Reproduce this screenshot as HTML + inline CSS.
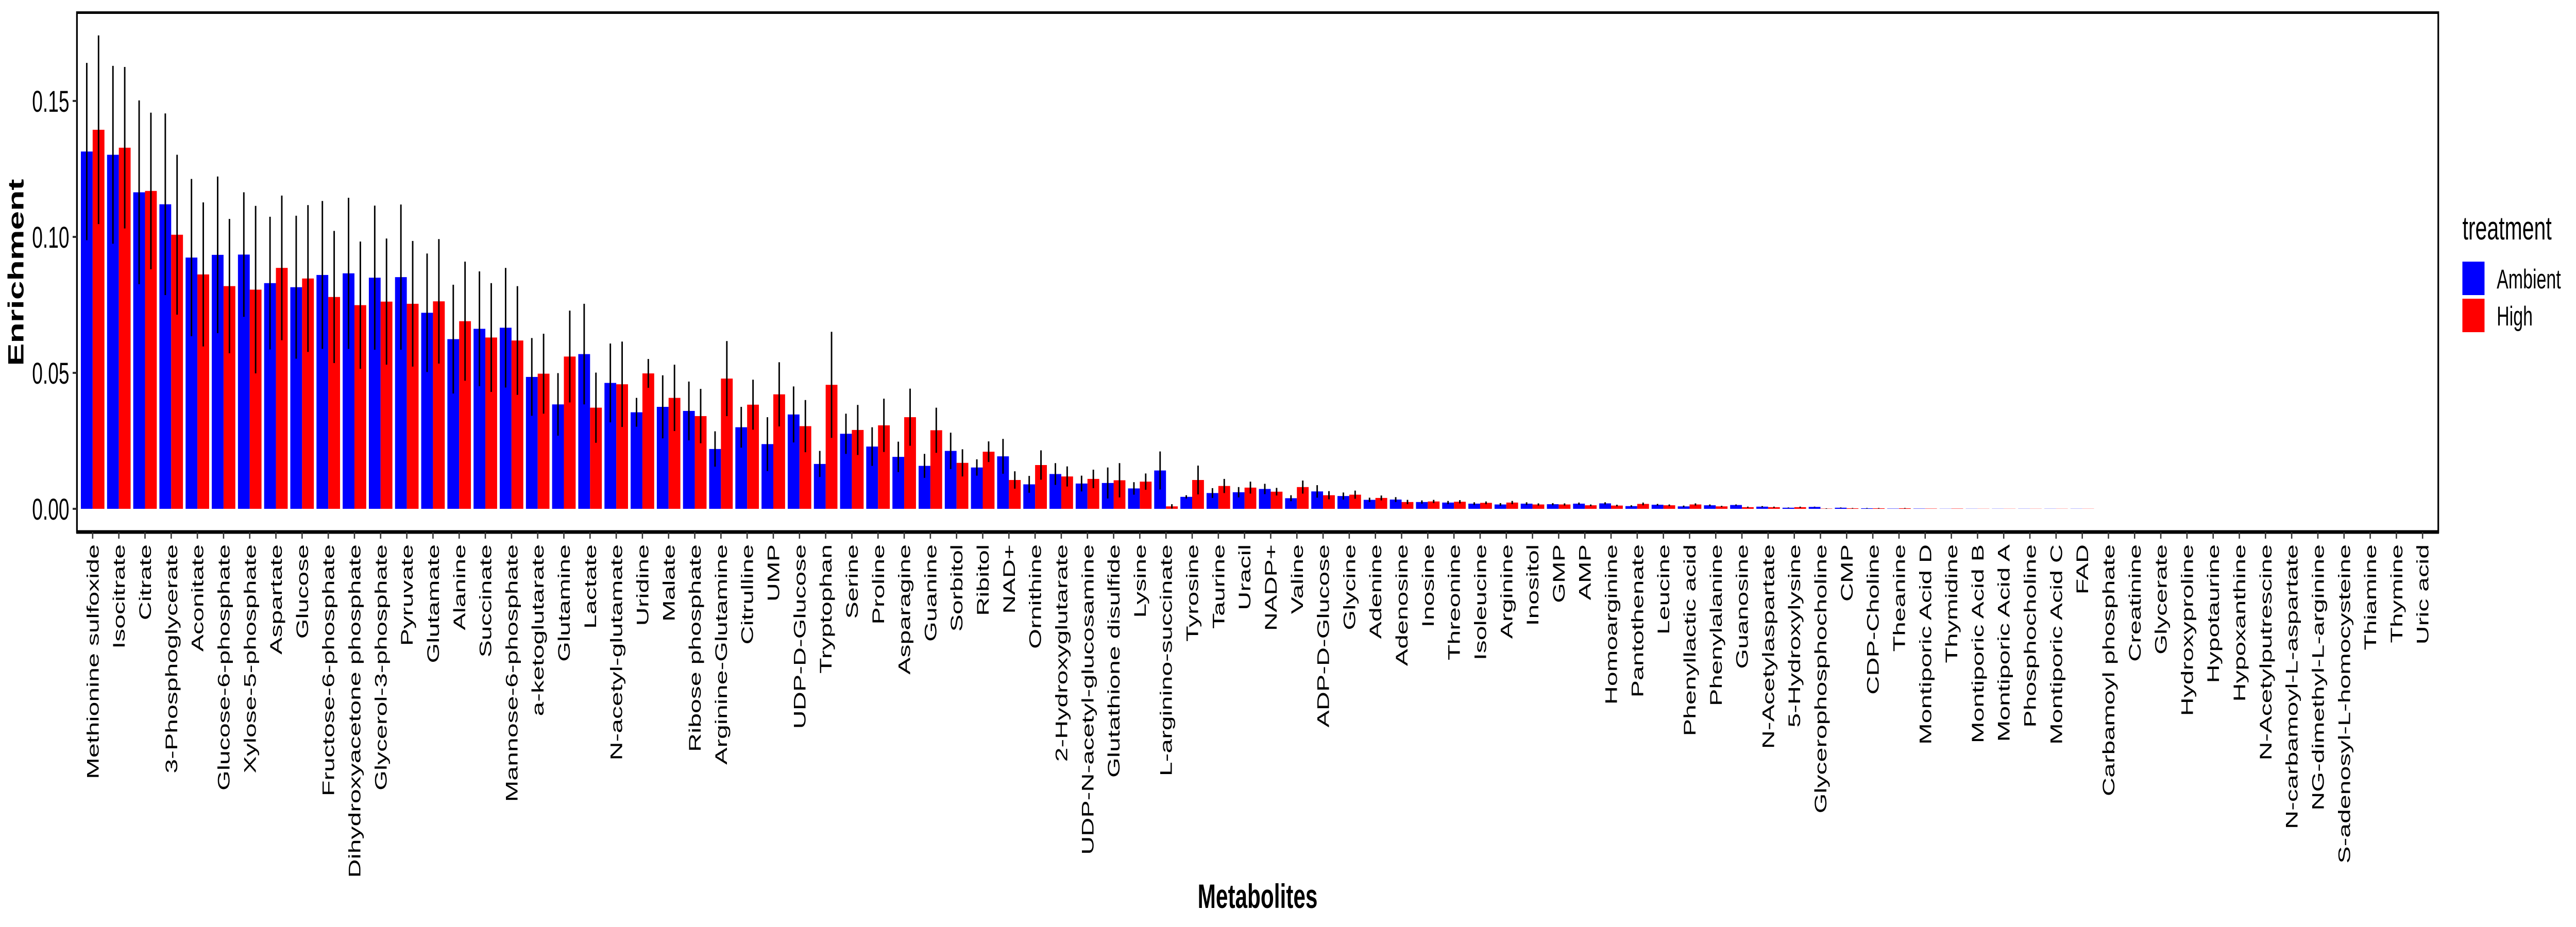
<!DOCTYPE html>
<html>
<head>
<meta charset="utf-8">
<style>
  html, body { margin: 0; padding: 0; background: #ffffff; width: 100%; height: 100%; overflow: hidden; }
  svg { display: block; width: 100vw; height: 100vh; }
  text { font-family: "Liberation Sans", Arial, sans-serif; fill: #000; }
</style>
</head>
<body>
<svg id="chart" viewBox="0 0 7800 1800" preserveAspectRatio="none" xmlns="http://www.w3.org/2000/svg">
  <rect x="0" y="0" width="7800" height="1800" fill="#ffffff"/>
  <g id="bars"></g>
  <g id="errors"></g>
  <rect x="233" y="24.5" width="7150" height="1008.5" fill="none" stroke="#000" stroke-width="5"/>
  <line x1="231" y1="1033" x2="7385" y2="1033" stroke="#000" stroke-width="7"/>
  <g id="yaxis"></g>
  <g id="xaxis"></g>
  <text transform="translate(71,529) rotate(-90)" text-anchor="middle" font-size="66" font-weight="bold">Enrichment</text>
  <text x="3808" y="1763" text-anchor="middle" font-size="66" font-weight="bold">Metabolites</text>
  <g>
    <text x="7456" y="465" font-size="64">treatment</text>
    <rect x="7456" y="508" width="67" height="65" fill="#0000ff"/>
    <text x="7560" y="560" font-size="53">Ambient</text>
    <rect x="7456" y="580" width="67" height="65" fill="#ff0000"/>
    <text x="7560" y="632" font-size="53">High</text>
  </g>
</svg>
<script>
const categories = ["Methionine sulfoxide","Isocitrate","Citrate","3-Phosphoglycerate","Aconitate","Glucose-6-phosphate","Xylose-5-phosphate","Aspartate","Glucose","Fructose-6-phosphate","Dihydroxyacetone phosphate","Glycerol-3-phosphate","Pyruvate","Glutamate","Alanine","Succinate","Mannose-6-phosphate","a-ketoglutarate","Glutamine","Lactate","N-acetyl-glutamate","Uridine","Malate","Ribose phosphate","Arginine-Glutamine","Citrulline","UMP","UDP-D-Glucose","Tryptophan","Serine","Proline","Asparagine","Guanine","Sorbitol","Ribitol","NAD+","Ornithine","2-Hydroxyglutarate","UDP-N-acetyl-glucosamine","Glutathione disulfide","Lysine","L-arginino-succinate","Tyrosine","Taurine","Uracil","NADP+","Valine","ADP-D-Glucose","Glycine","Adenine","Adenosine","Inosine","Threonine","Isoleucine","Arginine","Inositol","GMP","AMP","Homoarginine","Pantothenate","Leucine","Phenyllactic acid","Phenylalanine","Guanosine","N-Acetylaspartate","5-Hydroxylysine","Glycerophosphocholine","CMP","CDP-Choline","Theanine","Montiporic Acid D","Thymidine","Montiporic Acid B","Montiporic Acid A","Phosphocholine","Montiporic Acid C","FAD","Carbamoyl phosphate","Creatinine","Glycerate","Hydroxyproline","Hypotaurine","Hypoxanthine","N-Acetylputrescine","N-carbamoyl-L-aspartate","NG-dimethyl-L-arginine","S-adenosyl-L-homocysteine","Thiamine","Thymine","Uric acid"];
const ambient = [0.1314,0.1302,0.1164,0.112,0.0924,0.0934,0.0935,0.083,0.0815,0.086,0.0866,0.085,0.0852,0.0721,0.0624,0.0662,0.0666,0.0485,0.0384,0.0569,0.0463,0.0355,0.0375,0.036,0.022,0.03,0.0238,0.0347,0.0165,0.0276,0.0229,0.0191,0.0158,0.0213,0.0152,0.0193,0.009,0.0128,0.0093,0.0095,0.0075,0.0141,0.0044,0.0058,0.0061,0.0073,0.0039,0.0064,0.0047,0.0033,0.0034,0.0025,0.0023,0.0019,0.0016,0.0019,0.0017,0.0019,0.002,0.001,0.0015,0.0009,0.0013,0.0014,0.0008,0.0004,0.0007,0.0004,0.0002,0.0001,0.0001,0.00005,0.00005,0.00005,0.00005,0.00005,0.00005,0,0,0,0,0,0,0,0,0,0,0,0,0];
const high = [0.1394,0.1328,0.1169,0.1008,0.0862,0.0819,0.0806,0.0886,0.0847,0.0779,0.0749,0.0762,0.0754,0.0763,0.069,0.063,0.0619,0.0497,0.056,0.0372,0.0458,0.0498,0.0408,0.0341,0.0479,0.0383,0.0421,0.0304,0.0456,0.029,0.0307,0.0337,0.0289,0.0169,0.021,0.0106,0.0161,0.0119,0.011,0.0105,0.01,0.0009,0.0106,0.0084,0.0078,0.0063,0.008,0.005,0.0052,0.004,0.0025,0.0027,0.0026,0.0022,0.0023,0.0016,0.0016,0.0013,0.0012,0.0018,0.0013,0.0016,0.0009,0.0006,0.0006,0.0006,0.0001,0.0002,0.0002,0.0002,0.0001,0.0001,0.00005,0.00005,0.00005,0.00005,0.00005,0,0,0,0,0,0,0,0,0,0,0,0,0];
const errAmbient = [0.0326,0.0327,0.0338,0.0334,0.0289,0.0288,0.0229,0.0244,0.0263,0.0272,0.0278,0.0265,0.0267,0.0218,0.02,0.0211,0.022,0.0143,0.0115,0.0185,0.0145,0.0053,0.0116,0.0108,0.0065,0.0075,0.0099,0.0103,0.0048,0.0074,0.0071,0.0056,0.0044,0.0067,0.003,0.0064,0.0031,0.004,0.0029,0.0057,0.0023,0.007,0.0006,0.0018,0.0019,0.0019,0.0011,0.0023,0.0013,0.0008,0.0009,0.0006,0.0006,0.0005,0.0005,0.0005,0.0004,0.0004,0.0004,0.0003,0.0003,0.0003,0.0003,0.0002,0.0002,0.0001,0.0001,0.0001,0.0001,0,0,0,0,0,0,0,0,0,0,0,0,0,0,0,0,0,0,0,0,0];
const errHigh = [0.0347,0.0297,0.0288,0.0294,0.0265,0.0247,0.0308,0.0266,0.027,0.0243,0.0234,0.0232,0.0231,0.0229,0.0219,0.02,0.02,0.0147,0.0169,0.0129,0.0157,0.0053,0.0122,0.01,0.0138,0.0092,0.0118,0.0096,0.0195,0.0092,0.0098,0.0105,0.0083,0.005,0.0038,0.0032,0.0054,0.0037,0.0034,0.0063,0.003,0.0008,0.0053,0.0026,0.0022,0.0014,0.0024,0.0015,0.0015,0.0009,0.0008,0.0006,0.0006,0.0005,0.0006,0.0004,0.0004,0.0003,0.0003,0.0005,0.0003,0.0004,0.0002,0.0002,0.0002,0.0002,0.0001,0.0001,0.0001,0.0001,0,0,0,0,0,0,0,0,0,0,0,0,0,0,0,0,0,0,0,0];
const yTickValues = [0, 0.05, 0.10, 0.15];
const yTickLabels = ["0.00", "0.05", "0.10", "0.15"];

const NS = "http://www.w3.org/2000/svg";
const panelLeft = 233, panelRight = 7383;
const y0px = 988, pxPerUnit = 5280;
const step = (panelRight - panelLeft) / (categories.length + 0.2);
function xCenter(i) { return panelLeft + (0.6 + i) * step; }
function yScale(v) { return y0px - v * pxPerUnit; }
const barW = step * 0.45;

const barsG = document.getElementById('bars');
const errG = document.getElementById('errors');
const xG = document.getElementById('xaxis');
const yG = document.getElementById('yaxis');

function mk(tag, attrs) {
  const el = document.createElementNS(NS, tag);
  for (const k in attrs) el.setAttribute(k, attrs[k]);
  return el;
}

categories.forEach(function (cat, i) {
  const cx = xCenter(i);
  const series = [[ambient[i], errAmbient[i], '#0000ff', cx - barW, 'ambient'], [high[i], errHigh[i], '#ff0000', cx, 'high']];
  series.forEach(function (s) {
    const v = s[0];
    const top = yScale(v);
    const r = mk('rect', { x: s[3], y: Math.min(top, y0px), width: barW, height: Math.abs(y0px - top), fill: s[2] });
    
    
    barsG.appendChild(r);
    if (s[1] > 0) {
      const ex = s[3] + barW / 2;
      const l = mk('line', { x1: ex, x2: ex, y1: yScale(v + s[1]), y2: yScale(Math.max(0, v - s[1])), stroke: '#000', 'stroke-width': 4.5 });
      
      
      errG.appendChild(l);
    }
  });
  const t = mk('line', { x1: cx, x2: cx, y1: 1033, y2: 1046, stroke: '#333', 'stroke-width': 4 });
  
  
  xG.appendChild(t);
  const lab = mk('text', { transform: 'translate(' + (cx + 18) + ',1057) rotate(-90)', 'text-anchor': 'end', 'font-size': 50 });
  lab.textContent = cat;
  
  
  xG.appendChild(lab);
});

yTickValues.forEach(function (v, i) {
  const y = yScale(v);
  const t = mk('line', { x1: 220, x2: 233, y1: y, y2: y, stroke: '#333', 'stroke-width': 4 });
  
  
  yG.appendChild(t);
  const lab = mk('text', { x: 210, y: y + 21, 'text-anchor': 'end', 'font-size': 58 });
  lab.textContent = yTickLabels[i];
  
  
  yG.appendChild(lab);
});
</script>
</body>
</html>
